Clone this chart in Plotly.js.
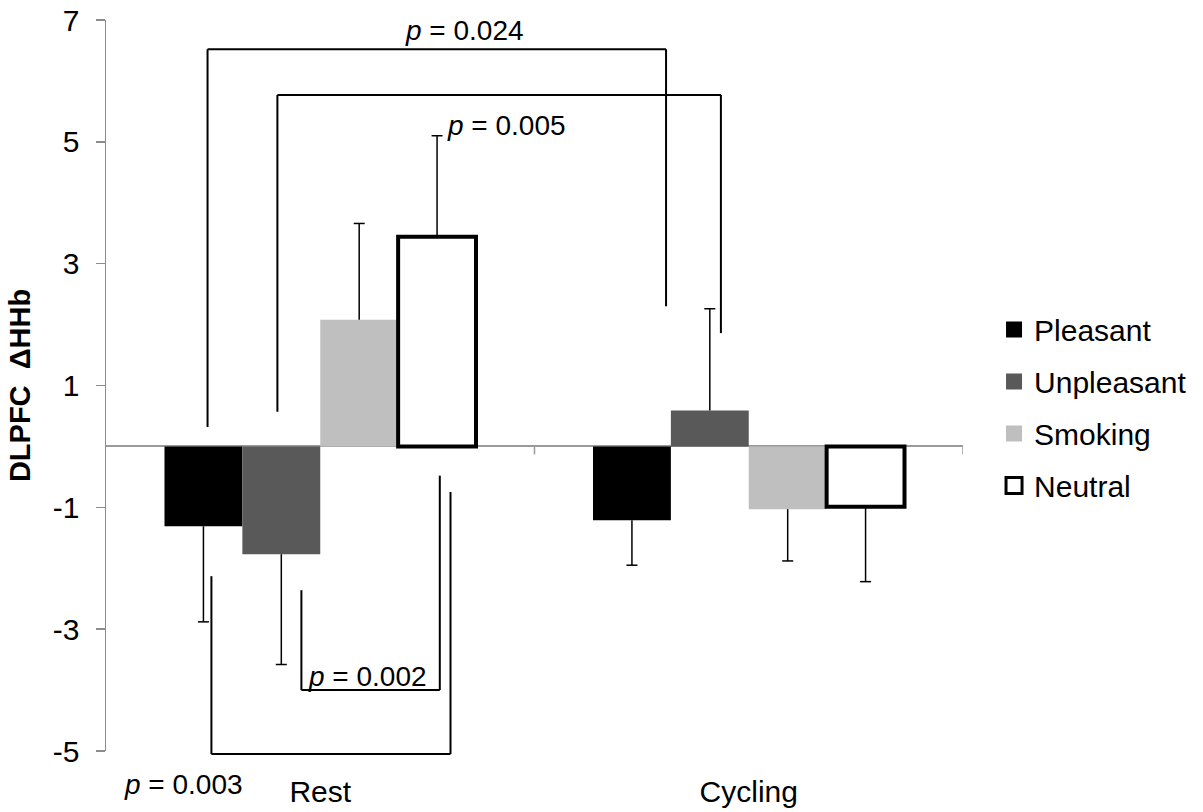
<!DOCTYPE html>
<html>
<head>
<meta charset="utf-8">
<script src="https://cdn.plot.ly/plotly-3.0.1.min.js"></script>
<style>html,body{margin:0;padding:0;background:#fff;}#chart{width:1203px;height:812px;}</style>
</head>
<body>
<div id="chart"></div>
<script>
// ---- data ----
const conditions = ['Rest', 'Cycling'];
const seriesNames = ['Pleasant', 'Unpleasant', 'Smoking', 'Neutral'];
const pleasant = [-1.31, -1.21];
const unpleasant = [-1.77, 0.59];
const smoking = [2.08, -1.03];
const neutral = [3.44, -0.99];
// one-sided error (away from zero)
const pleasantErr = [1.57, 0.74];
const unpleasantErr = [1.81, 1.67];
const smokingErr = [1.58, 0.85];
const neutralErr = [1.66, 1.23];
// y tick labels
const yTickVals = [-5, -3, -1, 1, 3, 5, 7];
const yTickText = ['-5', '-3', '-1', '1', '3', '5', '7'];
// significance brackets (x in category index units, y in data units)
const bracketLabels = ['0.024', '0.005', '0.002', '0.003'];
const bracketX1 = [-0.263, -0.100, -0.044, -0.254];
const bracketX2 = [0.807, 0.935, 0.279, 0.304];
const bracketLevel = [6.52, 5.77, -4.00, -5.05];
const bracketEnd1 = [0.32, 0.57, -2.36, -2.13];
const bracketEnd2 = [2.30, 1.86, -0.48, -0.75];
const labelX = [0.337, 0.435, 0.111, -0.318];
const labelY = [6.82, 5.27, -3.78, -5.55];

const FONT = 'Liberation Sans, Arial, sans-serif';
const colors = ['#000000', '#595959', '#bfbfbf', '#ffffff'];
const values = [pleasant, unpleasant, smoking, neutral];
const errs = [pleasantErr, unpleasantErr, smokingErr, neutralErr];
const Y_MIN = -5, Y_MAX = 7, BARGAP = 0.273;
const toPaper = y => (y - Y_MIN) / (Y_MAX - Y_MIN);

const traces = seriesNames.map((name, i) => {
  const v = values[i], e = errs[i];
  return {
    type: 'bar', name: name, x: conditions, y: v, showlegend: false,
    marker: {color: colors[i], line: {color: '#000', width: i === 3 ? 4 : 0}},
    error_y: {
      type: 'data', symmetric: false,
      array: v.map((val, k) => val >= 0 ? e[k] : 0),
      arrayminus: v.map((val, k) => val < 0 ? e[k] : 0),
      color: '#000', thickness: 1.5, width: 0
    }
  };
});
// legend entries (square swatches)
seriesNames.forEach((name, i) => {
  traces.push({
    type: 'scatter', mode: 'markers', name: name, x: [null], y: [null], legendgroup: name,
    marker: {symbol: 'square', size: 16, color: colors[i], line: {color: '#000', width: i === 3 ? 3 : 0}}
  });
});

const shapes = [];
// error-bar caps at the far end only
const barW = (1 - BARGAP) / seriesNames.length;
seriesNames.forEach((name, i) => {
  values[i].forEach((v, k) => {
    const end = v >= 0 ? v + errs[i][k] : v - errs[i][k];
    const xc = k + (i - (seriesNames.length - 1) / 2) * barW;
    shapes.push({type: 'line', xref: 'x', yref: 'y', xsizemode: 'pixel', xanchor: xc, x0: -5.5, x1: 5.5, y0: end, y1: end, line: {color: '#000', width: 1.5}});
  });
});
for (let i = 0; i < bracketLabels.length; i++) {
  const ln = {color: '#000', width: 2};
  shapes.push({type: 'line', xref: 'x', yref: 'paper', x0: bracketX1[i], x1: bracketX1[i], y0: toPaper(bracketEnd1[i]), y1: toPaper(bracketLevel[i]), line: ln});
  shapes.push({type: 'line', xref: 'x', yref: 'paper', x0: bracketX1[i], x1: bracketX2[i], y0: toPaper(bracketLevel[i]), y1: toPaper(bracketLevel[i]), line: ln});
  shapes.push({type: 'line', xref: 'x', yref: 'paper', x0: bracketX2[i], x1: bracketX2[i], y0: toPaper(bracketLevel[i]), y1: toPaper(bracketEnd2[i]), line: ln});
}
// category divider ticks on the zero line
[0.5, 1.5].forEach(x => shapes.push({type: 'line', xref: 'x', yref: 'y', x0: x, x1: x, y0: 0, y1: -0.13, line: {color: '#9a9a9a', width: 1.5}}));

const annotations = bracketLabels.map((t, i) => ({
  x: labelX[i], y: toPaper(labelY[i]), xref: 'x', yref: 'paper', showarrow: false,
  text: '<i>p</i> = ' + t, font: {family: FONT, size: 28, color: '#000'},
  xanchor: 'center', yanchor: 'middle'
}));

const layout = {
  width: 1203, height: 812,
  margin: {l: 106, r: 239, t: 19.5, b: 60.5, pad: 0},
  paper_bgcolor: '#fff', plot_bgcolor: '#fff',
  font: {family: FONT, color: '#000', size: 30},
  barmode: 'group', bargap: BARGAP, bargroupgap: 0,
  showlegend: true,
  legend: {x: 1.035, xanchor: 'left', y: 0.47, yanchor: 'middle', font: {family: FONT, size: 30, color: '#000'}, tracegroupgap: 10, itemwidth: 30, bgcolor: 'rgba(0,0,0,0)'},
  xaxis: {
    type: 'category', range: [-0.5, 1.5], showline: false, showgrid: false, zeroline: false,
    ticks: '', tickfont: {family: FONT, size: 30, color: '#000'}, ticklabelstandoff: 20
  },
  yaxis: {
    range: [Y_MIN, Y_MAX], tickmode: 'array', tickvals: yTickVals, ticktext: yTickText, showgrid: false,
    showline: true, linecolor: '#8c8c8c', linewidth: 1.5,
    ticks: 'outside', ticklen: 9, tickcolor: '#8c8c8c', tickwidth: 1.5,
    zeroline: true, zerolinecolor: '#9a9a9a', zerolinewidth: 2,
    tickfont: {family: FONT, size: 30, color: '#000'}, ticklabelstandoff: 10,
    title: {text: '<b>DLPFC \u00a0ΔHHb</b>', font: {family: FONT, size: 29, color: '#000'}, standoff: 13}
  },
  shapes: shapes,
  annotations: annotations
};

Plotly.newPlot('chart', traces, layout, {displayModeBar: false, staticPlot: true});
</script>
</body>
</html>
